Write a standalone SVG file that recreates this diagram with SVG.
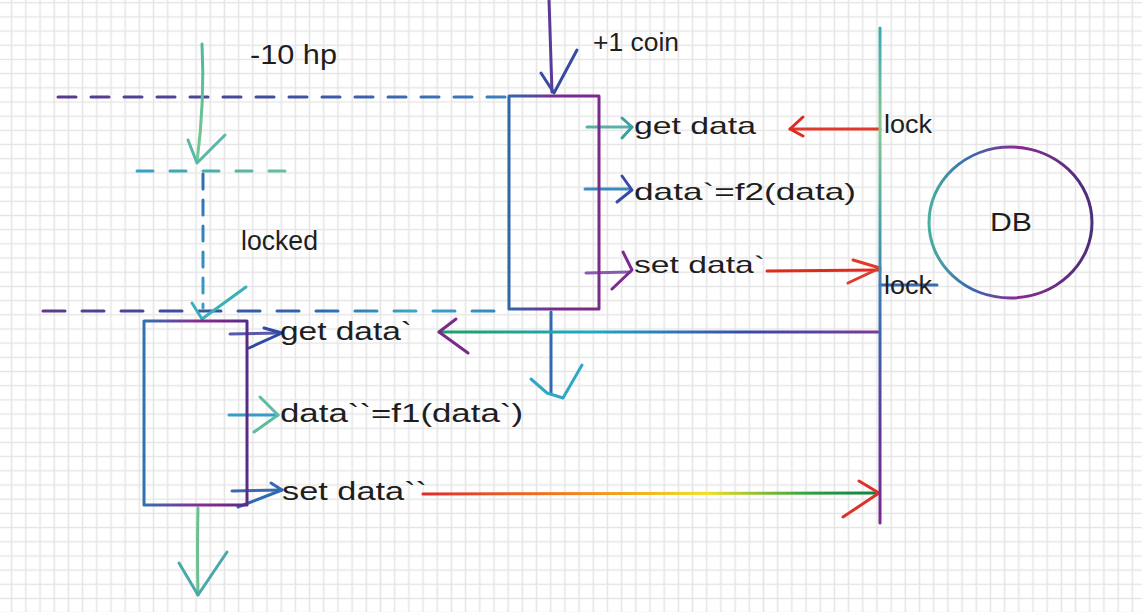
<svg xmlns="http://www.w3.org/2000/svg" width="1142" height="612" viewBox="0 0 1142 612">
<style>
  .t{font-family:"Liberation Sans","DejaVu Sans",sans-serif;fill:#1e1e1e;}
  .s{fill:none;stroke-width:3;stroke-linecap:round;stroke-linejoin:round;}
</style>
<defs>
  <pattern id="grid" patternUnits="userSpaceOnUse" x="4.6" y="-4.39" width="14.185" height="14.185">
    <path d="M7.09 0V14.185M0 7.09H14.185" stroke="#e5e5e5" stroke-width="1.5" fill="none"/>
  </pattern>
  <linearGradient id="gTopDash" gradientUnits="userSpaceOnUse" x1="58" y1="0" x2="508" y2="0">
    <stop offset="0" stop-color="#5b3a8c"/><stop offset="0.5" stop-color="#3f4fa0"/><stop offset="1" stop-color="#3a80c0"/>
  </linearGradient>
  <linearGradient id="gLowDash" gradientUnits="userSpaceOnUse" x1="43" y1="0" x2="508" y2="0">
    <stop offset="0" stop-color="#5b3a8c"/><stop offset="0.3" stop-color="#3a4fa0"/><stop offset="0.6" stop-color="#2f6ab0"/><stop offset="0.8" stop-color="#3aa8c8"/><stop offset="1" stop-color="#3a80c0"/>
  </linearGradient>
  <linearGradient id="gShortDash" gradientUnits="userSpaceOnUse" x1="137" y1="0" x2="288" y2="0">
    <stop offset="0" stop-color="#35a0c8"/><stop offset="0.5" stop-color="#4ab0a8"/><stop offset="1" stop-color="#6cc09a"/>
  </linearGradient>
  <linearGradient id="gVDash" gradientUnits="userSpaceOnUse" x1="0" y1="174" x2="0" y2="310">
    <stop offset="0" stop-color="#2f6ab0"/><stop offset="1" stop-color="#3aa0c8"/>
  </linearGradient>
  <linearGradient id="gVert" gradientUnits="userSpaceOnUse" x1="0" y1="28" x2="0" y2="523">
    <stop offset="0" stop-color="#3aa8b0"/><stop offset="0.2" stop-color="#88c890"/><stop offset="0.4" stop-color="#4aa0a8"/><stop offset="0.6" stop-color="#3a68b0"/><stop offset="0.8" stop-color="#5a3a98"/><stop offset="1" stop-color="#7a2a8a"/>
  </linearGradient>
  <linearGradient id="gRain" gradientUnits="userSpaceOnUse" x1="423" y1="0" x2="880" y2="0">
    <stop offset="0" stop-color="#e02a2a"/><stop offset="0.3" stop-color="#f07a20"/><stop offset="0.62" stop-color="#f2e020"/><stop offset="0.85" stop-color="#2aa040"/><stop offset="1" stop-color="#0e8040"/>
  </linearGradient>
  <linearGradient id="gRet" gradientUnits="userSpaceOnUse" x1="439" y1="0" x2="878" y2="0">
    <stop offset="0" stop-color="#1ea060"/><stop offset="0.35" stop-color="#20a8c8"/><stop offset="0.7" stop-color="#3a4aa8"/><stop offset="1" stop-color="#7a3a9a"/>
  </linearGradient>
  <linearGradient id="gBox1" gradientUnits="userSpaceOnUse" x1="509" y1="0" x2="599" y2="0">
    <stop offset="0" stop-color="#2f68a8"/><stop offset="0.5" stop-color="#7a2a90"/><stop offset="1" stop-color="#7a2a8a"/>
  </linearGradient>
  <linearGradient id="gBox2" gradientUnits="userSpaceOnUse" x1="144" y1="0" x2="247" y2="0">
    <stop offset="0" stop-color="#3470b0"/><stop offset="0.55" stop-color="#8a2a90"/><stop offset="1" stop-color="#5a2a88"/>
  </linearGradient>
  <linearGradient id="gDB" gradientUnits="userSpaceOnUse" x1="929" y1="0" x2="1092" y2="0">
    <stop offset="0" stop-color="#4aaea0"/><stop offset="0.25" stop-color="#3a6ab0"/><stop offset="0.55" stop-color="#8a2a90"/><stop offset="1" stop-color="#4a2f7a"/>
  </linearGradient>
  <linearGradient id="gGreenDown" gradientUnits="userSpaceOnUse" x1="0" y1="44" x2="0" y2="163">
    <stop offset="0" stop-color="#4ab8a0"/><stop offset="1" stop-color="#7cc890"/>
  </linearGradient>
</defs>
<rect width="1142" height="612" fill="#ffffff"/>
<rect width="1142" height="612" fill="url(#grid)"/>

<g id="connectors">
  <line class="s" x1="58" y1="97" x2="505" y2="97" stroke="url(#gTopDash)" stroke-dasharray="18 15"/>
  <line class="s" x1="43" y1="311" x2="506" y2="311" stroke="url(#gLowDash)" stroke-dasharray="22 17"/>
  <line class="s" x1="137" y1="171" x2="288" y2="171" stroke="url(#gShortDash)" stroke-dasharray="16 17"/>
  <line class="s" x1="203" y1="174" x2="203" y2="308" stroke="url(#gVDash)" stroke-dasharray="15 11"/>

  <path class="s" d="M202 44 Q205 100 197 162" stroke="url(#gGreenDown)"/>
  <path class="s" d="M188 140 L197 163 L225 135" stroke="#5ab8a8"/>
  <path class="s" d="M192 303 L202 319 L246 287" stroke="#3ab0b8"/>

  <path class="s" d="M549 0 L552 92" stroke="#5a3a98"/>
  <path class="s" d="M541 73 L554 93 L577 50" stroke="#3a4aa0"/>

  <path class="s" d="M587 127 L632 127" stroke="#5ab0a8"/>
  <path class="s" d="M622 118 L632 127 L622 138" stroke="#3aa0a0"/>
  <path class="s" d="M585 189 L630 189" stroke="#3a8ac0"/>
  <path class="s" d="M622 176 L632 190 L617 202" stroke="#3a4aa8"/>
  <path class="s" d="M586 273 L630 272" stroke="#8a5ab0"/>
  <path class="s" d="M623 252 L632 270 L612 289" stroke="#7a2a90"/>

  <path class="s" d="M551 312 L551 393" stroke="#2f6ab0"/>
  <path class="s" d="M531 379 L547 393 L563 398 L582 365" stroke="#2fa8c8"/>

  <path class="s" d="M880 129 L790 129" stroke="#e03a2a"/>
  <path class="s" d="M803 117 L790 129 L803 136" stroke="#e02a20"/>
  <path class="s" d="M767 271 L880 270" stroke="#e02a20"/>
  <path class="s" d="M853 260 L880 268 L848 283" stroke="#e03a2a"/>
  <path class="s" d="M880 285 L937 285" stroke="#3a6ab0"/>

  <path class="s" d="M878 332 L439 332" stroke="url(#gRet)"/>
  <path class="s" d="M456 319 L439 332 L468 353" stroke="#7a2a8a"/>

  <path class="s" d="M230 334 L280 333" stroke="#5a5aa8"/>
  <path class="s" d="M264 328 L282 333 L249 348" stroke="#2f4aa0"/>
  <path class="s" d="M229 415 L278 415" stroke="#3a9ac8"/>
  <path class="s" d="M260 397 L278 415 L254 432" stroke="#5abca0"/>
  <path class="s" d="M232 491 L282 490" stroke="#3a6ab0"/>
  <path class="s" d="M271 483 L282 490 L238 507" stroke="#2f6ab0"/>

  <path class="s" d="M423 494 L879 493" stroke="url(#gRain)"/>
  <path class="s" d="M859 481 L879 493 L843 517" stroke="#e0302a"/>

  <path class="s" d="M198 508 Q197 550 198 595" stroke="#6cc090"/>
  <path class="s" d="M179 563 L198 595 L227 552" stroke="#4aa8a8"/>

  <line class="s" x1="880" y1="28" x2="880" y2="523" stroke="url(#gVert)"/>
</g>

<g id="box1">
  <rect class="s" x="509" y="96" width="90" height="213" stroke="url(#gBox1)"/>
</g>
<g id="box2">
  <rect class="s" x="144" y="321" width="103" height="184" stroke="url(#gBox2)"/>
</g>
<g id="db">
  <ellipse class="s" cx="1010.5" cy="222.5" rx="81.5" ry="75.5" stroke="url(#gDB)"/>
  <text class="t" x="1011" y="231" font-size="26" text-anchor="middle" textLength="42" lengthAdjust="spacingAndGlyphs">DB</text>
</g>

<g id="labels">
  <text class="t" x="250" y="64" font-size="28" textLength="87" lengthAdjust="spacingAndGlyphs">-10 hp</text>
  <text class="t" x="593" y="51" font-size="26" textLength="86" lengthAdjust="spacingAndGlyphs">+1 coin</text>
  <text class="t" x="241" y="250" font-size="27" textLength="77" lengthAdjust="spacingAndGlyphs">locked</text>
  <text class="t" x="634" y="134" font-size="24" textLength="122" lengthAdjust="spacingAndGlyphs">get data</text>
  <text class="t" x="634" y="200" font-size="24" textLength="222" lengthAdjust="spacingAndGlyphs">data`=f2(data)</text>
  <text class="t" x="634" y="273" font-size="24" textLength="131" lengthAdjust="spacingAndGlyphs">set data`</text>
  <text class="t" x="884" y="133" font-size="26" textLength="48" lengthAdjust="spacingAndGlyphs">lock</text>
  <text class="t" x="884" y="294" font-size="26" textLength="48" lengthAdjust="spacingAndGlyphs">lock</text>
  <text class="t" x="280" y="340" font-size="25" textLength="132" lengthAdjust="spacingAndGlyphs">get data`</text>
  <text class="t" x="280" y="422" font-size="25" textLength="243" lengthAdjust="spacingAndGlyphs">data``=f1(data`)</text>
  <text class="t" x="282" y="500" font-size="25" textLength="145" lengthAdjust="spacingAndGlyphs">set data``</text>
</g>
</svg>
